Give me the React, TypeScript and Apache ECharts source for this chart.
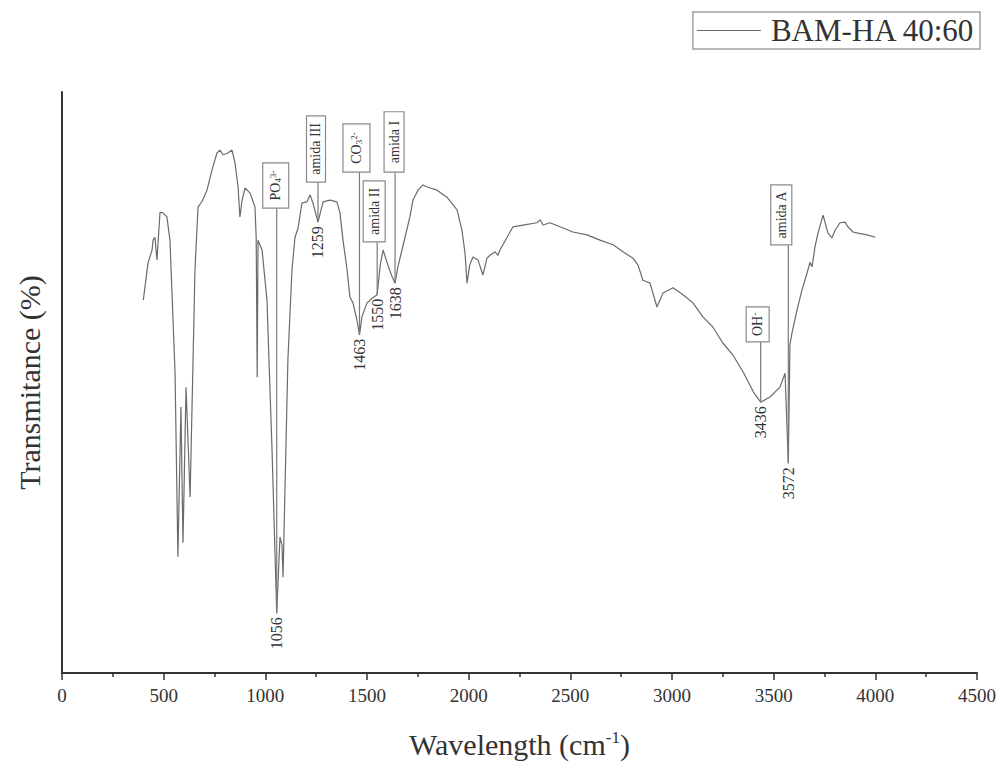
import React, { useEffect, useRef } from "react";
import * as echarts from "echarts";

const seriesName = "BAM-HA 40:60";

const wavenumbers = [
  400, 423, 443, 448, 457, 467, 482, 497, 516, 531, 556, 570, 585, 595, 610, 630, 654, 669, 689, 713,
  738, 762, 777, 792, 816, 836, 851, 866, 875, 885, 900, 925, 949, 955, 960, 964, 984, 1008, 1033, 1056,
  1072, 1082, 1087, 1111, 1131, 1146, 1161, 1180, 1205, 1220, 1234, 1259, 1284, 1318, 1352, 1367, 1382,
  1402, 1416, 1431, 1450, 1463, 1475, 1500, 1525, 1550, 1565, 1579, 1603, 1620, 1638, 1652, 1687, 1711,
  1726, 1751, 1775, 1800, 1844, 1893, 1943, 1967, 1982, 1992, 2005, 2021, 2046, 2070, 2090, 2105, 2130,
  2144, 2154, 2189, 2218, 2267, 2336, 2351, 2366, 2400, 2449, 2513, 2582, 2646, 2710, 2759, 2808, 2833,
  2857, 2892, 2926, 2956, 3005, 3054, 3103, 3152, 3200, 3250, 3300, 3350, 3400, 3436, 3482, 3531, 3556,
  3572, 3580, 3590, 3615, 3639, 3664, 3679, 3689, 3703, 3718, 3743, 3767, 3787, 3802, 3826, 3851, 3865,
  3890, 3915, 3959, 4000,
];

const transmittance = [
  64.2, 70.6, 72.8, 74.5, 75.0, 71.1, 79.3, 79.2, 78.5, 74.5, 51.6, 20.0, 45.8, 22.4, 49.2, 30.3, 69.4, 80.2, 81.2, 83.1,
  86.6, 89.5, 90.0, 89.2, 89.5, 90.0, 87.8, 83.6, 78.5, 81.2, 83.5, 82.6, 80.2, 75.0, 50.9, 74.5, 72.8, 64.2, 38.4, 10.3,
  23.4, 22.0, 16.5, 53.9, 69.4, 75.0, 76.6, 80.9, 81.1, 82.3, 80.9, 77.6, 81.1, 81.4, 81.1, 79.2, 74.5,
  69.4, 64.7, 63.7, 60.8, 58.2, 61.3, 63.7, 64.5, 65.1, 70.2, 72.8, 70.2, 68.5, 67.1, 69.9, 75.0, 78.5,
  81.4, 83.1, 84.0, 83.6, 83.1, 81.9, 79.7, 76.2, 72.3, 67.1, 70.2, 71.6, 71.1, 68.5, 71.4, 71.9, 72.5,
  71.9, 72.8, 75.0, 76.8, 77.1, 77.5, 78.0, 77.1, 77.5, 76.8, 75.9, 75.4, 74.5, 73.7, 72.5, 71.4, 70.2,
  67.6, 67.1, 63.0, 65.4, 66.3, 65.1, 63.7, 61.3, 59.6, 56.8, 54.7, 51.8, 48.4, 46.6, 47.5, 49.2, 51.6,
  36.1, 56.5, 58.5, 62.5, 65.9, 68.8, 70.7, 69.9, 73.3, 75.7, 78.8, 75.7, 74.9, 76.2, 77.5, 77.6, 76.8,
  75.9, 75.7, 75.4, 75.0,
];

const peakPositions = [1056, 1259, 1463, 1550, 1638, 3436, 3572];
const peakGroups = [
  "{m|PO}{b|4}{t|3-}",
  "amida III",
  "{m|CO}{b|3}{t|2-}",
  "amida II",
  "amida I",
  "{m|OH}{t|-}",
  "amida A",
];

// box layout: top/bottom in axis units, width and horizontal offset in px
const boxLayout = [
  { top: 87.8, bottom: 80.0, w: 26, dx: -1 },
  { top: 95.9, bottom: 84.5, w: 19, dx: -2 },
  { top: 94.5, bottom: 86.2, w: 27, dx: -3 },
  { top: 84.7, bottom: 74.2, w: 22, dx: -3 },
  { top: 96.6, bottom: 86.2, w: 20, dx: -1 },
  { top: 63.0, bottom: 57.0, w: 23, dx: -3 },
  { top: 84.0, bottom: 73.7, w: 21, dx: -7 },
];

const FONT = "'Liberation Serif', 'Times New Roman', serif";
const TEXT = "#333333";

export default function App() {
  const ref = useRef<HTMLDivElement>(null);
  useEffect(() => {
    const chart = echarts.init(ref.current!, null, { renderer: "svg" });
    const data = wavenumbers.map((w, i) => [w, transmittance[i]]);
    chart.setOption({
      animation: false,
      backgroundColor: "#ffffff",
      textStyle: { fontFamily: FONT, color: TEXT },
      grid: { left: 62, right: 29, top: 92, bottom: 98, containLabel: false },
      legend: {
        right: 26,
        top: 12,
        padding: [3, 5, 3, 4],
        borderColor: "#a0a0a0",
        borderWidth: 1.5,
        itemWidth: 64,
        itemHeight: 14,
        itemGap: 10,
        textStyle: { fontFamily: FONT, fontSize: 31, color: TEXT, padding: [0, 0, 0, 5] },
        data: [{ name: seriesName, icon: "path://M0,0 L64,0 L64,1 L0,1 Z" }],
      },
      xAxis: {
        type: "value",
        min: 0,
        max: 4500,
        interval: 500,
        name: "Wavelength (cm{sup|-1})",
        nameLocation: "middle",
        nameGap: 56,
        nameTextStyle: {
          fontFamily: FONT,
          fontSize: 30,
          color: TEXT,
          rich: { sup: { fontFamily: FONT, fontSize: 17, color: TEXT, verticalAlign: "top", padding: [0, 0, 12, 0] } },
        },
        axisLine: { show: true, lineStyle: { color: "#333", width: 2 } },
        axisTick: { show: true, inside: false, length: 7, lineStyle: { color: "#333", width: 1.5 } },
        minorTick: { show: true, splitNumber: 2, length: 4, lineStyle: { color: "#333", width: 1.5 } },
        axisLabel: { fontFamily: FONT, fontSize: 19, color: TEXT, margin: 13, formatter: (v: number) => String(v) },
        splitLine: { show: false },
      },
      yAxis: {
        type: "value",
        min: 0,
        max: 100,
        name: "Transmitance (%)",
        nameLocation: "middle",
        nameGap: 18,
        nameTextStyle: { fontFamily: FONT, fontSize: 30, color: TEXT },
        axisLine: { show: true, lineStyle: { color: "#333", width: 2 } },
        axisTick: { show: false },
        axisLabel: { show: false },
        splitLine: { show: false },
      },
      series: [
        {
          name: seriesName,
          type: "line",
          data,
          symbol: "none",
          showSymbol: false,
          lineStyle: { color: "#6a6a6a", width: 1.2 },
          itemStyle: { color: "#6a6a6a" },
        },
      ],
    });

    const elements: any[] = [];
    peakPositions.forEach((wn, i) => {
      const val = transmittance[wavenumbers.indexOf(wn)];
      const p = chart.convertToPixel({ gridIndex: 0 }, [wn, val]) as number[];
      const L = boxLayout[i];
      const t = chart.convertToPixel({ gridIndex: 0 }, [wn, L.top]) as number[];
      const b = chart.convertToPixel({ gridIndex: 0 }, [wn, L.bottom]) as number[];
      const px = p[0];
      const py = p[1];
      const cx = px + L.dx;
      elements.push({
        type: "line",
        z: 10,
        shape: { x1: px, y1: b[1], x2: px, y2: py },
        style: { stroke: "#7a7a7a", lineWidth: 1.2 },
      });
      elements.push({
        type: "rect",
        z: 11,
        shape: { x: cx - L.w / 2, y: t[1], width: L.w, height: b[1] - t[1] },
        style: { fill: "#ffffff", stroke: "#8a8a8a", lineWidth: 1.2 },
      });
      elements.push({
        type: "text",
        z: 12,
        x: cx,
        y: (t[1] + b[1]) / 2,
        rotation: Math.PI / 2,
        style: {
          text: peakGroups[i],
          fontFamily: FONT,
          fontSize: 14,
          fill: TEXT,
          align: "center",
          verticalAlign: "middle",
          textAlign: "center",
          textVerticalAlign: "middle",
          rich: {
            m: { fontFamily: FONT, fontSize: 14, fill: TEXT, color: TEXT },
            b: { fontFamily: FONT, fontSize: 9, fill: TEXT, color: TEXT, verticalAlign: "bottom" },
            t: { fontFamily: FONT, fontSize: 9, fill: TEXT, color: TEXT, verticalAlign: "top" },
          },
        },
      });
      elements.push({
        type: "text",
        z: 12,
        x: px,
        y: py + 4,
        rotation: Math.PI / 2,
        style: {
          text: String(wn),
          fontFamily: FONT,
          fontSize: 16,
          fill: TEXT,
          align: "right",
          verticalAlign: "middle",
          textAlign: "right",
          textVerticalAlign: "middle",
        },
      });
    });
    chart.setOption({ graphic: { elements } });
    return () => chart.dispose();
  }, []);
  return (
    <div
      ref={ref}
      style={{ position: "absolute", left: 0, top: 0, width: 1006, height: 771 }}
    />
  );
}
